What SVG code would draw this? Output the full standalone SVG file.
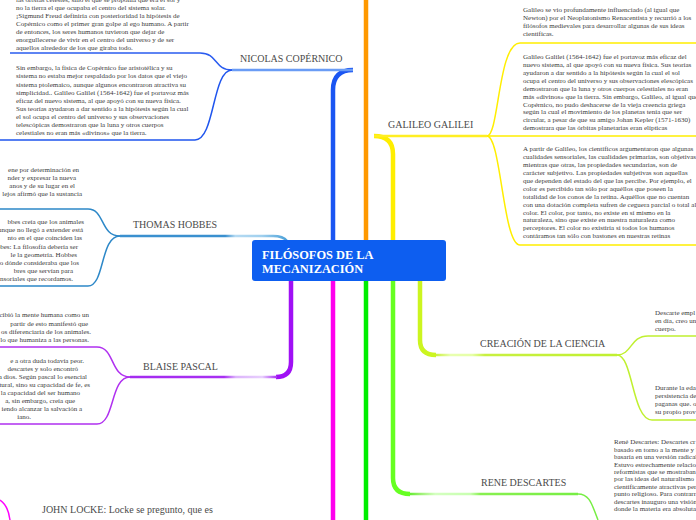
<svg xmlns="http://www.w3.org/2000/svg" width="696" height="520" viewBox="0 0 696 520">
<style>
.t{font-family:"Liberation Serif",serif;font-size:7px;fill:#3a3a3a}
.lb{font-family:"Liberation Serif",serif;font-size:10px;fill:#4a4a4a}
.v{fill:none;stroke-width:4.5}
.h{fill:none;stroke-width:2.5}
.f{fill:none;stroke-width:1.5}
.e{text-anchor:end}
</style>
<defs>
<linearGradient id="gHob" gradientUnits="userSpaceOnUse" x1="120" y1="0" x2="287" y2="0">
<stop offset="0" stop-color="#3a90cf"/><stop offset="0.63" stop-color="#3a90cf"/><stop offset="0.69" stop-color="#b5daf2"/><stop offset="0.85" stop-color="#a0d0ee"/><stop offset="1" stop-color="#4aa0d8"/>
</linearGradient>
<linearGradient id="gPas" gradientUnits="userSpaceOnUse" x1="130" y1="0" x2="277" y2="0">
<stop offset="0" stop-color="#a42cf0"/><stop offset="0.64" stop-color="#a830f2"/><stop offset="0.72" stop-color="#dcb4fb"/><stop offset="0.9" stop-color="#e8d0fd"/><stop offset="1" stop-color="#a830f2"/>
</linearGradient>
<linearGradient id="gDes" gradientUnits="userSpaceOnUse" x1="410" y1="0" x2="578" y2="0">
<stop offset="0" stop-color="#66ee33"/><stop offset="0.06" stop-color="#9af070"/><stop offset="0.15" stop-color="#d4ffc0"/><stop offset="0.36" stop-color="#c8ffb0"/><stop offset="0.42" stop-color="#88f050"/><stop offset="1" stop-color="#77ee44"/>
</linearGradient>
<linearGradient id="gCre" gradientUnits="userSpaceOnUse" x1="436" y1="0" x2="617" y2="0">
<stop offset="0" stop-color="#ccf040"/><stop offset="0.08" stop-color="#e8ffb0"/><stop offset="0.2" stop-color="#e6ffa8"/><stop offset="0.27" stop-color="#c8f040"/><stop offset="1" stop-color="#c0f030"/>
</linearGradient>
</defs>
<rect width="696" height="520" fill="#ffffff"/>

<g id="connectors">
<path class="v" stroke="#1a55f2" d="M333,240 V90 Q333,70 353,70"/>
<path class="h" stroke="#6a9cf5" d="M353,70 H232"/>
<path class="f" stroke="#2a5cf0" d="M232,70 C214,70 218,53 200,53 H10"/>
<path class="f" stroke="#1f55ee" d="M232,70 C212,70 215,140 195,140 H0"/>
<path class="v" stroke="#ff9900" d="M366,0 V240"/>
<path class="v" stroke="#ffee00" d="M393,240 V154 Q393,136 374,136"/>
<path class="h" stroke="#ffee22" d="M374,136 H487"/>
<path class="f" stroke="#ffee00" d="M487,136 C499,136 498,43 520,43 H696"/>
<path class="f" stroke="#ffee00" d="M487,136 H696"/>
<path class="f" stroke="#ffee00" d="M487,136 C501,136 503,245 520,245 H696"/>
<path class="h" stroke="url(#gHob)" d="M287,241 Q283,236 273,236 H120"/>
<path class="f" stroke="#2d88c8" d="M120,236 C100,236 105,209 88,209 H0"/>
<path class="f" stroke="#2d88c8" d="M120,236 C100,236 105,286 88,286 H0"/>
<path class="v" stroke="#a010f5" d="M291,281 V362 Q291,377 276,377"/>
<path class="h" stroke="url(#gPas)" d="M277,377 H130"/>
<path class="f" stroke="#b030f0" d="M130,377 C110,377 115,347 97,347 H0"/>
<path class="f" stroke="#b030f0" d="M130,377 C110,377 115,424 97,424 H0"/>
<path class="v" stroke="#ff00ee" d="M333,281 V520"/>
<path class="v" stroke="#00ee00" d="M366,281 V520"/>
<path class="f" stroke="#ff00ff" d="M0,500 C6,504 9,512 10,520"/>
<path class="v" stroke="#66ff22" d="M393,281 V478 Q393,494 410,494"/>
<path class="h" stroke="url(#gDes)" d="M410,494 H578"/>
<path class="f" stroke="#77ee44" d="M578,494 C590,494 592,505 598,520"/>
<path class="v" stroke="#ccf520" d="M420,281 V340 Q420,355 436,355"/>
<path class="h" stroke="url(#gCre)" d="M436,355 H617"/>
<path class="f" stroke="#c0f030" d="M617,355 C632,355 630,336 648,336 H696"/>
<path class="f" stroke="#c0f030" d="M617,355 C633,355 632,420 652,420 H696"/>
</g>

<g id="center">
<rect x="252" y="240" width="194" height="41" rx="3" fill="#0d5ef0"/>
<text x="262" y="259" font-family="Liberation Serif, serif" font-weight="bold" font-size="12.4" fill="#ffffff">FILÓSOFOS DE LA</text>
<text x="262" y="273" font-family="Liberation Serif, serif" font-weight="bold" font-size="12.4" fill="#ffffff">MECANIZACIÓN</text>
</g>

<g id="copernico">
<text class="lb" x="240" y="62">NICOLAS COPÉRNICO</text>
<text class="t" x="16" y="1.5">las órbitas celestes, sino el que se proponía que era el sol y</text>
<text class="t" x="16" y="9.6">no la tierra el que ocupaba el centro del sistema solar.</text>
<text class="t" x="16" y="17.7">¡Sigmund Freud definiría con posterioridad la  hipótesis de</text>
<text class="t" x="16" y="25.8">Copérnico como el primer gran golpe al ego humano. A partir</text>
<text class="t" x="16" y="33.9">de entonces, los seres humanos tuvieron que dejar de</text>
<text class="t" x="16" y="42">enorgullecerse de vivir en el centro del universo y de ser</text>
<text class="t" x="16" y="50.1">aquellos alrededor de los que giraba todo.</text>
<text class="t" x="16" y="70.3">Sin embargo, la física de Copérnico fue aristotélica y su</text>
<text class="t" x="16" y="78.4">sistema no estaba mejor respaldado por los datos que el viejo</text>
<text class="t" x="16" y="86.5">sistema ptolemaico, aunque algunos encontraron atractiva su</text>
<text class="t" x="16" y="94.6">simplicidad.. Galileo Galilei (1564-1642) fue el portavoz más</text>
<text class="t" x="16" y="102.7">eficaz del nuevo sistema, al que apoyó con su nueva física.</text>
<text class="t" x="16" y="110.8">Sus teorías ayudaron a dar sentido a la hipótesis según la cual</text>
<text class="t" x="16" y="118.9">el sol ocupa el centro del universo y sus observaciones</text>
<text class="t" x="16" y="127">telescópicas demostraron que la luna y otros cuerpos</text>
<text class="t" x="16" y="135.1">celestiales no eran más «divinos» que la tierra.</text>
</g>

<g id="galileo">
<text class="lb" x="388" y="128.3">GALILEO GALILEI</text>
<text class="t" x="523" y="12.3">Galileo se vio  profundamente influenciado (al igual que</text>
<text class="t" x="523" y="20.3">Newton) por el Neoplatonismo Renacentista y recurrió a los</text>
<text class="t" x="523" y="28.3">filósofos medievales para desarrollar algunas de sus ideas</text>
<text class="t" x="523" y="36.3">científicas.</text>
<text class="t" x="523" y="58.6">Galileo Galilei (1564-1642) fue el portavoz más eficaz del</text>
<text class="t" x="523" y="66.6">nuevo sistema, al que apoyó con su nueva física. Sus teorías</text>
<text class="t" x="523" y="74.6">ayudaron a dar sentido a la hipótesis según la cual el sol</text>
<text class="t" x="523" y="82.6">ocupa el centro del universo y sus observaciones elescópicas</text>
<text class="t" x="523" y="90.6">demostraron que la luna y otros cuerpos celestiales no eran</text>
<text class="t" x="523" y="98.5">más «divinos» que la tierra. Sin embargo, Galileo, al igual que</text>
<text class="t" x="523" y="106.5">Copérnico, no pudo deshacerse de la vieja creencia griega</text>
<text class="t" x="523" y="114.4">según la cual el movimiento de los planetas tenía que ser</text>
<text class="t" x="523" y="122.3">circular, a pesar de que su amigo Johan Kepler (1571-1630)</text>
<text class="t" x="523" y="130.2">demostrara que las órbitas planetarias eran elípticas</text>
<text class="t" x="523" y="151.3">A partir de Galileo, los científicos argumentaron que algunas</text>
<text class="t" x="523" y="159.2">cualidades sensoriales, las cualidades primarias, son objetivas</text>
<text class="t" x="523" y="167.1">mientras que otras, las propiedades secundarias, son de</text>
<text class="t" x="523" y="175">carácter subjetivo. Las propiedades subjetivas son aquellas</text>
<text class="t" x="523" y="182.9">que dependen del estado del que las percibe. Por ejemplo, el</text>
<text class="t" x="523" y="190.8">color es percibido tan sólo por aquéllos que poseen la</text>
<text class="t" x="523" y="198.7">totalidad de los conos de la retina. Aquéllos que no cuentan</text>
<text class="t" x="523" y="206.6">con una dotación completa sufren de ceguera parcial o total al</text>
<text class="t" x="523" y="214.5">color. El color, por tanto, no existe en sí mismo en la</text>
<text class="t" x="523" y="222.4">naturaleza, sino que existe en nuestra naturaleza como</text>
<text class="t" x="523" y="230.3">perceptores. El color no existiría si todos los humanos</text>
<text class="t" x="523" y="238.2">contáramos tan sólo con bastones en nuestras retinas</text>
</g>

<g id="hobbes">
<text class="lb" x="133" y="227.7">THOMAS HOBBES</text>
<text class="t e" x="79" y="172">ene por determinación en</text>
<text class="t e" x="76" y="180">nder y expresar la nueva</text>
<text class="t e" x="75" y="188">anos y de su lugar en el</text>
<text class="t e" x="82" y="196">lejos afirmó que la sustancia</text>
<text class="t e" x="84" y="224">bbes creía que los animales</text>
<text class="t e" x="83" y="232.2">unque no llegó a extender está</text>
<text class="t e" x="82" y="240.4">nto en el que coinciden las</text>
<text class="t e" x="78" y="248.6">bbes: La filosofía debería ser</text>
<text class="t e" x="77" y="256.8">le la geometría.  Hobbes</text>
<text class="t e" x="79" y="265">o dónde consideraba que los</text>
<text class="t e" x="73" y="273.2">bres que servían para</text>
<text class="t e" x="73" y="281.4">nsoriales que recordamos.</text>
</g>

<g id="pascal">
<text class="lb" x="143" y="370">BLAISE PASCAL</text>
<text class="t e" x="89" y="317.3">cibió la mente humana como un</text>
<text class="t e" x="88" y="325.5">partir de esto manifestó que</text>
<text class="t e" x="91" y="333.7">os diferenciaría de los animales.</text>
<text class="t e" x="89" y="341.9">lo que humaniza a las personas.</text>
<text class="t e" x="84" y="362.7">e a otra duda todavía peor.</text>
<text class="t e" x="78" y="370.7">descartes y solo encontró</text>
<text class="t e" x="87" y="378.7">a dios. Según pascal lo esencial</text>
<text class="t e" x="90" y="386.7">tural, sino su capacidad de fe, es</text>
<text class="t e" x="80" y="394.7">la capacidad del ser humano</text>
<text class="t e" x="75" y="402.7">a, sin embargo, creía que</text>
<text class="t e" x="82" y="410.7">iendo alcanzar la salvación a</text>
<text class="t e" x="31" y="418.7">iano.</text>
</g>

<g id="locke">
<text class="lb" x="42" y="513" fill="#3a3a3a">JOHN LOCKE: Locke se pregunto, que es</text>
</g>

<g id="creacion">
<text class="lb" x="480" y="347.3">CREACIÓN DE LA CIENCIA</text>
<text class="t" x="655" y="315">Descarte empl</text>
<text class="t" x="655" y="323">en día, creo una</text>
<text class="t" x="655" y="331">cuerpo.</text>
<text class="t" x="655" y="390">Durante la eda</text>
<text class="t" x="655" y="398">persistencia de</text>
<text class="t" x="655" y="406">paganas que. o</text>
<text class="t" x="655" y="414">su propio prov</text>
</g>

<g id="descartes">
<text class="lb" x="481" y="486">RENE DESCARTES</text>
<text class="t" x="614" y="444.3">René Descartes: Descartes cr</text>
<text class="t" x="614" y="451.7">basado en torno a la mente y l</text>
<text class="t" x="614" y="459.1">basaría en una versión radical</text>
<text class="t" x="614" y="466.5">Estuvo estrechamente relacio</text>
<text class="t" x="614" y="473.9">reformistas que se mostraban</text>
<text class="t" x="614" y="481.3">por las ideas del naturalismo</text>
<text class="t" x="614" y="488.7">científicamente atractivas per</text>
<text class="t" x="614" y="496.1">punto religioso. Para contrarr</text>
<text class="t" x="614" y="503.5">descartes inauguro una visión</text>
<text class="t" x="614" y="510.9">donde la materia era absoluta</text>
</g>
</svg>
